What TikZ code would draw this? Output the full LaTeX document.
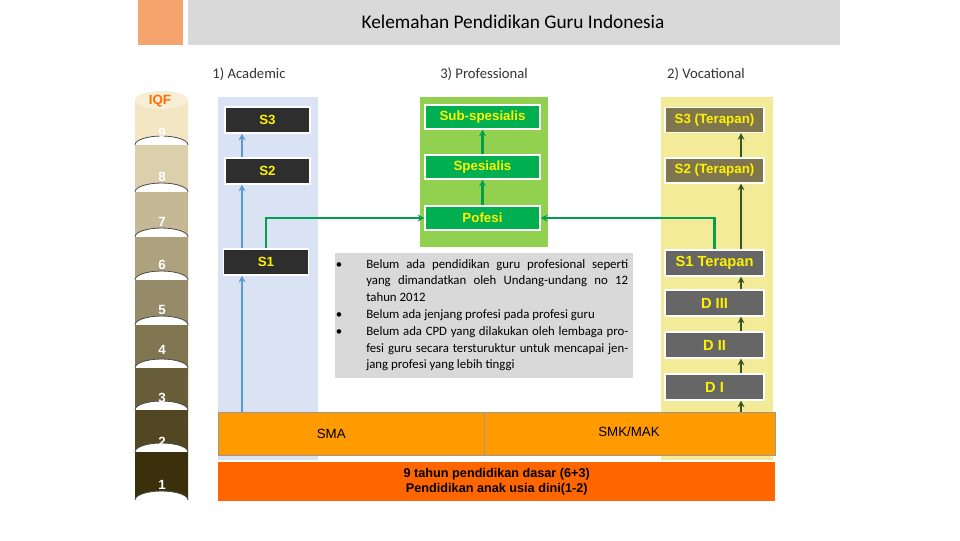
\documentclass[tikz,border=0pt]{standalone}
\usepackage{fontspec}
\setmainfont{Liberation Sans}
\newfontfamily\carl{Carlito}
\usetikzlibrary{arrows.meta}
\definecolor{ttl}{HTML}{D9D9D9}
\definecolor{sq}{HTML}{F4A46C}
\definecolor{bpan}{HTML}{DAE3F3}
\definecolor{gpan}{HTML}{92D050}
\definecolor{ypan}{HTML}{F3EB97}
\definecolor{gbox}{HTML}{00B050}
\definecolor{olive}{HTML}{7F7650}
\definecolor{dgray}{HTML}{666666}
\definecolor{dgreen}{HTML}{375623}
\definecolor{barA}{HTML}{FF9A00}
\definecolor{barB}{HTML}{FF6600}
\definecolor{blu}{HTML}{5B9BD5}
\definecolor{grn}{HTML}{00A050}
\definecolor{ctop}{HTML}{F3E7C3}
\definecolor{cbot}{HTML}{3A300C}
\begin{document}
\begin{tikzpicture}[x=0.75pt,y=-0.75pt,
 lvl/.style={font=\bfseries\fontsize{10}{12}\selectfont, text=yellow, draw=white, line width=0.8pt, inner sep=0pt},
 aca/.style={lvl, fill=black!82, minimum width=85pt*0.75, minimum height=26*0.75pt},
 pro/.style={lvl, fill=gbox, minimum width=115*0.75pt, minimum height=24*0.75pt},
 voc/.style={lvl, minimum width=99*0.75pt, minimum height=25*0.75pt},
 hdr/.style={font=\carl\fontsize{11}{13}\selectfont, text=black!80},
 cyl/.style={font=\bfseries\fontsize{10}{12}\selectfont, text=white},
 barrow/.style={-{Stealth[length=5pt,width=5pt]}, blu, line width=2pt},
 garrow/.style={-{Stealth[length=5pt,width=5pt]}, grn, line width=2pt},
 varrow/.style={-{Stealth[length=5pt,width=5pt]}, dgreen, line width=2pt}]
\useasboundingbox (0,0) rectangle (960,540);
\fill[sq] (138,0) rectangle (183,45);
\fill[ttl] (188,0) rectangle (840,45);
\node[font=\carl\fontsize{14.5}{16}\selectfont] (title) at (513,22) {Kelemahan Pendidikan Guru Indonesia};
\node[hdr] (h1) at (249,74) {1) Academic};
\node[hdr] (h3) at (484,74) {3) Professional};
\node[hdr] (h2) at (706,74) {2) Vocational};
% cylinder
\foreach \i/\ya/\yb in {1/452/500,2/410/452,3/368/410,4/325/368,5/280/325,6/237/280,7/192/237,8/145/192,9/100/145}{
  \pgfmathsetmacro\pc{(9-\i)*12.5}
  \fill[cbot!\pc!ctop] (135,\ya) -- (135,\yb) arc[start angle=180,end angle=360,x radius=26.5,y radius=9] -- (188,\ya) -- cycle;
  \draw[black!70,line width=0.6pt] (135,\yb) arc[start angle=180,end angle=360,x radius=26.5,y radius=9];
}
\fill[ctop!70!white] (161.5,100) ellipse[x radius=26.5,y radius=9];
\node[font=\bfseries\fontsize{10}{12}\selectfont, text=orange!85!red] (iqf) at (160,101) {IQF};
\foreach \n/\y in {9/133,8/177,7/222,6/265,5/310,4/350,3/398,2/442,1/485}
  \node[cyl] (c\n) at (162,\y) {\n};
% panels
\fill[bpan] (218,97) rectangle (318,460);
\fill[gpan] (420,97) rectangle (548,247);
\fill[ypan] (661,97) rectangle (773,460);
% bars
\node[fill=barA, draw=black!40, minimum width=266*0.75pt, minimum height=43*0.75pt, inner sep=0pt, anchor=north west, font=\fontsize{10}{12}\selectfont] (sma) at (218,412) {\hspace*{-30pt}SMA};
\node[fill=barA, draw=black!40, minimum width=291*0.75pt, minimum height=43*0.75pt, inner sep=0pt, anchor=north west] (smk) at (484,412) {};
\node[font=\fontsize{10}{12}\selectfont] (smkt) at (629,432) {SMK/MAK};
\node[fill=barB, minimum width=557*0.75pt, minimum height=39*0.75pt, inner sep=0pt, anchor=north west, align=center, font=\bfseries\fontsize{9.5}{11}\selectfont] (base) at (218,462) {9 tahun pendidikan dasar (6+3)\\Pendidikan anak usia dini(1-2)};
% academic
\node[aca] (s3) at (267.5,120) {S3};
\node[aca] (s2) at (267.5,171) {S2};
\node[aca] (s1) at (266,262) {S1};
\coordinate (bs) at (242,412);
\draw[barrow] (bs) -- (bs |- s1.south);
\draw[barrow] (bs |- s1.north) -- (bs |- s2.south);
\draw[barrow] (bs |- s2.north) -- (bs |- s3.south);
% professional
\node[pro] (sub) at (482.5,117) {Sub-spesialis};
\node[pro] (spe) at (482.5,167) {Spesialis};
\node[pro] (pof) at (482.5,218) {Pofesi};
\draw[garrow] (pof) -- (spe);
\draw[garrow] (spe) -- (sub);
% vocational
\node[voc, fill=olive] (v3) at (714.5,120) {S3 (Terapan)};
\node[voc, fill=olive] (v2) at (714.5,170.5) {S2 (Terapan)};
\node[voc, fill=dgray, font=\bfseries\fontsize{11}{13}\selectfont, minimum height=26*0.75pt] (v1) at (714.5,263) {S1 Terapan};
\node[voc, fill=dgray, font=\bfseries\fontsize{11}{13}\selectfont, minimum height=26*0.75pt] (d3) at (714.5,303) {D III};
\node[voc, fill=dgray, font=\bfseries\fontsize{11}{13}\selectfont, minimum height=26*0.75pt] (d2) at (714.5,345) {D II};
\node[voc, fill=dgray, font=\bfseries\fontsize{11}{13}\selectfont, minimum height=26*0.75pt] (d1) at (714.5,387) {D I};
\coordinate (vs) at (741,412);
\draw[varrow] (vs) -- (vs |- d1.south);
\draw[varrow] (vs |- d1.north) -- (vs |- d2.south);
\draw[varrow] (vs |- d2.north) -- (vs |- d3.south);
\draw[varrow] (vs |- d3.north) -- (vs |- v1.south);
\draw[varrow] (vs |- v1.north) -- (vs |- v2.south);
\draw[varrow] (vs |- v2.north) -- (vs |- v3.south);
% green connectors
\draw[garrow, line width=1.6pt] (s1.north) |- (pof.west);
\draw[garrow, line width=1.6pt] (v1.north) |- (pof.east);
% text box
\node[fill=ttl, anchor=north west, minimum width=298*0.75pt, minimum height=125*0.75pt, inner sep=0pt] (tb) at (335,253) {};
\node[anchor=north west, text width=262*0.75pt, align=justify, font=\carl\fontsize{9.6}{12.6}\selectfont, inner sep=0pt] (tbt) at (366,259) {\hyphenpenalty=10000\exhyphenpenalty=0%
\llap{\textbullet\hspace{18pt}}Belum ada pendidikan guru profesional seperti yang dimandatkan oleh Undang-\allowbreak undang no 12 tahun 2012\\
\llap{\textbullet\hspace{18pt}}Belum ada jenjang profesi pada profesi guru\\
\llap{\textbullet\hspace{18pt}}Belum ada CPD yang dilakukan oleh lembaga profesi guru secara tersturuktur untuk mencapai jenjang profesi yang lebih tinggi};
\end{tikzpicture}
\end{document}
